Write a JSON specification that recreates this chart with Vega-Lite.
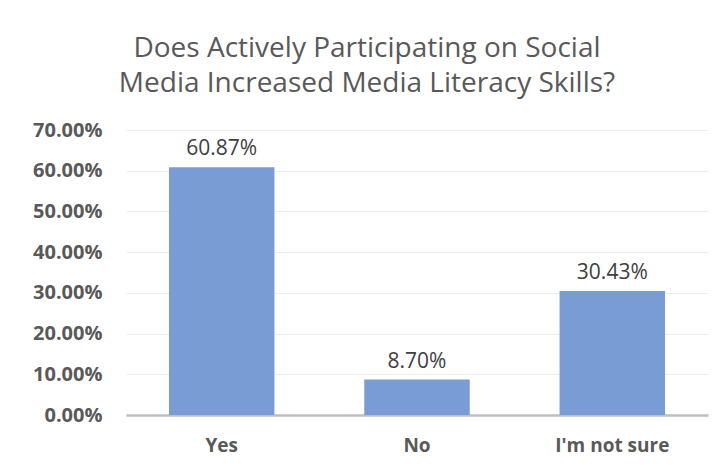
{
  "$schema": "https://vega.github.io/schema/vega-lite/v6.json",
  "autosize": {"type": "none"},
  "width": 582,
  "height": 285,
  "padding": {"left": 126, "top": 130, "right": 8, "bottom": 57},
  "background": "white",
  "title": {
    "text": ["Does Actively Participating on Social", "Media Increased Media Literacy Skills?"],
    "font": "Open Sans",
    "fontSize": 28,
    "fontWeight": "normal",
    "color": "#595959",
    "anchor": "middle",
    "dx": -50,
    "offset": 22,
    "lineHeight": 35
  },
  "data": {
    "values": [
      {"answer": "Yes", "pct": 0.6087},
      {"answer": "No", "pct": 0.087},
      {"answer": "I'm not sure", "pct": 0.3043}
    ]
  },
  "encoding": {
    "x": {
      "field": "answer",
      "type": "nominal",
      "sort": null,
      "title": null,
      "scale": {"paddingInner": 0.46, "paddingOuter": 0.22},
      "axis": {
        "labelAngle": 0,
        "labelFont": "Open Sans",
        "labelFontSize": 19,
        "labelFontWeight": "bold",
        "labelColor": "#595959",
        "labelPadding": 21,
        "ticks": false,
        "domainColor": "#bfbfbf",
        "domainWidth": 2.5
      }
    },
    "y": {
      "field": "pct",
      "type": "quantitative",
      "title": null,
      "scale": {"domain": [0, 0.7]},
      "axis": {
        "format": ".2%",
        "values": [0, 0.1, 0.2, 0.3, 0.4, 0.5, 0.6, 0.7],
        "labelFont": "Open Sans",
        "labelFontSize": 20,
        "labelFontWeight": "bold",
        "labelColor": "#595959",
        "labelPadding": 24,
        "ticks": false,
        "domain": false,
        "gridColor": "#ececec",
        "gridWidth": 1.2
      }
    }
  },
  "layer": [
    {"mark": {"type": "bar", "color": "#7a9cd5"}},
    {
      "mark": {"type": "text", "baseline": "bottom", "dy": -8, "font": "Open Sans", "fontSize": 21, "color": "#404040"},
      "encoding": {"text": {"field": "pct", "type": "quantitative", "format": ".2%"}}
    }
  ],
  "config": {"view": {"stroke": null}}
}
